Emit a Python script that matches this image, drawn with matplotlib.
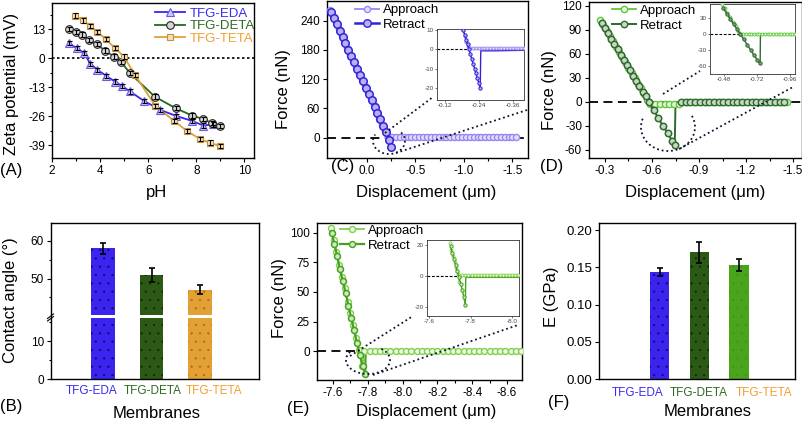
import numpy as np
import matplotlib
matplotlib.use("Agg")
import matplotlib.pyplot as plt
from matplotlib.lines import Line2D
from matplotlib.patches import Arc, Rectangle
from matplotlib.ticker import MultipleLocator, FixedLocator

plt.rcParams['font.family'] = ['Liberation Sans', 'DejaVu Sans']
plt.rcParams['axes.unicode_minus'] = False
plt.rcParams['hatch.linewidth'] = 0.35

# ---------------- (A) zeta potential ----------------
ph_eda = [2.69, 3.03, 3.34, 3.59, 3.89, 4.25, 4.62, 4.90, 5.24, 5.82, 6.51, 7.17, 7.83, 8.30, 8.70]
zeta_eda = [6.7, 4.5, 2.2, -2.5, -5.2, -7.9, -10.5, -12.4, -14.9, -19.1, -23.2, -25.9, -28.1, -30.2, -29.6]
ph_deta = [2.69, 3.00, 3.25, 3.55, 3.86, 4.20, 4.58, 4.87, 5.24, 6.27, 7.14, 7.83, 8.30, 8.65, 8.97]
zeta_deta = [13.0, 11.7, 10.5, 8.2, 6.3, 3.4, 0.7, -1.6, -6.7, -17.2, -22.4, -25.7, -27.3, -29.1, -30.3]
ph_teta = [2.97, 3.27, 3.59, 3.89, 4.23, 4.62, 4.99, 5.45, 6.30, 7.08, 7.61, 8.17, 8.55, 8.97]
zeta_teta = [19.1, 16.9, 14.5, 11.7, 8.5, 4.5, 0.7, -7.5, -21.4, -28.1, -32.6, -36.3, -37.8, -39.3]
zeta_err = 1.0
series_names = ['TFG-EDA', 'TFG-DETA', 'TFG-TETA']

# ---------------- (B) contact angle ----------------
membranes = ['TFG-EDA', 'TFG-DETA', 'TFG-TETA']
contact_angle = [58.0, 51.0, 47.0]
contact_err = [1.5, 1.8, 1.2]

# ---------------- (F) modulus ----------------
modulus = [0.144, 0.170, 0.153]
modulus_err = [0.0055, 0.014, 0.0076]

# ---------------- (C) force curve TFG-EDA ----------------
c_app_x = [0.38, 0.35, 0.32, 0.29, 0.26, 0.23, 0.20, 0.17, 0.14, 0.11, 0.08, 0.05, 0.02, -0.01, -0.04,
           -0.07, -0.10, -0.13, -0.16, -0.19, -0.22, -0.26, -0.30, -0.34, -0.38, -0.42, -0.46, -0.50,
           -0.54, -0.58, -0.62, -0.66, -0.70, -0.74, -0.78, -0.82, -0.86, -0.90, -0.94, -0.98, -1.02,
           -1.06, -1.10, -1.14, -1.18, -1.22, -1.26, -1.30, -1.34, -1.38, -1.42, -1.46, -1.50, -1.54]
c_app_y = [262, 249, 236, 223, 209, 196, 183, 170, 157, 144, 131, 118, 105, 92, 79,
           66, 52, 39, 26, 13, 1, 1, 1, 1, 1, 1, 1, 1,
           1, 1, 1, 1, 1, 1, 1, 1, 1, 1, 1, 1, 1,
           1, 1, 1, 1, 1, 1, 1, 1, 1, 1, 1, 1, 1]
c_ret_x = [0.37, 0.34, 0.31, 0.28, 0.25, 0.22, 0.19, 0.16, 0.13, 0.10, 0.07, 0.04, 0.01, -0.02,
           -0.05, -0.08, -0.11, -0.14, -0.17, -0.20, -0.23, -0.25]
c_ret_y = [258, 245, 232, 219, 206, 193, 180, 167, 154, 141, 128, 115, 102, 89,
           76, 63, 50, 37, 24, 11, -5, -20]
c_tail_x = [-0.25, -0.252, -0.50, -0.78, -0.80, -1.54]
c_tail_y = [-20, -1.5, -1.5, -1.5, 0.5, 0.5]
# inset C
ci_app_x = [-0.185, -0.190, -0.195, -0.200, -0.205, -0.210, -0.220, -0.230, -0.240, -0.250, -0.260,
            -0.270, -0.280, -0.290, -0.300, -0.310, -0.320, -0.330, -0.340, -0.350, -0.360, -0.370,
            -0.380, -0.390, -0.400]
ci_app_y = [10, 7, 4, 1.5, 0.5, 0.5, 0.5, 0.5, 0.5, 0.5, 0.5,
            0.5, 0.5, 0.5, 0.5, 0.5, 0.5, 0.5, 0.5, 0.5, 0.5, 0.5,
            0.5, 0.5, 0.5]
ci_ret_x = [-0.185, -0.190, -0.195, -0.200, -0.205, -0.210, -0.215, -0.220, -0.225, -0.230, -0.235,
            -0.240, -0.245]
ci_ret_y = [10, 7.5, 5, 2.5, 0, -2.5, -5, -7.5, -10, -12.5, -15, -17.5, -20]
ci_tail_x = [-0.245, -0.247, -0.300, -0.400]
ci_tail_y = [-20, -0.8, -0.8, -0.5]

# ---------------- (D) force curve TFG-DETA ----------------
d_app_x = [-0.27, -0.29, -0.31, -0.33, -0.35, -0.37, -0.39, -0.41, -0.43, -0.45, -0.47, -0.49, -0.51,
           -0.53, -0.55, -0.57, -0.59, -0.62, -0.65, -0.68, -0.71, -0.74, -0.77, -0.80, -0.83, -0.86,
           -0.89, -0.92, -0.95, -0.98, -1.01, -1.04, -1.07, -1.10, -1.13, -1.16, -1.19, -1.22, -1.25,
           -1.28, -1.31, -1.34, -1.37, -1.40, -1.43, -1.46]
d_app_y = [102, 96, 89, 83, 76, 69, 63, 56, 50, 43, 36, 30, 23,
           17, 10, 3, -2, -3, -3, -3, -3, -3, -3, 0, 0, 0,
           0, 0, 0, 0, 0, 0, 0, 0, 0, 0, 0, 0, 0,
           0, 0, 0, 0, 0, 0, 0]
d_ret_x = [-0.28, -0.30, -0.32, -0.34, -0.36, -0.38, -0.40, -0.42, -0.44, -0.46, -0.48, -0.50, -0.52,
           -0.54, -0.56, -0.58, -0.61, -0.64, -0.67, -0.70, -0.73, -0.745]
d_ret_y = [99, 92, 86, 79, 73, 66, 59, 53, 46, 40, 33, 26, 20,
           13, 7, 0, -10, -20, -30, -39, -49, -54]
d_tail_x = [-0.745, -0.750, -0.785, -0.815, -0.845, -0.875, -0.905, -0.935, -0.965, -0.995, -1.025,
            -1.055, -1.085, -1.115, -1.145, -1.175, -1.205, -1.235, -1.265, -1.295, -1.325, -1.355,
            -1.385, -1.415, -1.445]
d_tail_y = [-54, -2, 0, 0, 0, 0, 0, 0, 0, 0, 0,
            0, 0, 0, 0, 0, 0, 0, 0, 0, 0, 0,
            0, 0, 0]
# inset D
di_app_x = [-0.465, -0.485, -0.505, -0.525, -0.545, -0.565, -0.585, -0.600, -0.620, -0.640, -0.660,
            -0.680, -0.700, -0.720, -0.740, -0.760, -0.780, -0.800, -0.820, -0.840, -0.860, -0.880,
            -0.900, -0.920, -0.940, -0.960, -0.980, -1.000]
di_app_y = [57, 49, 40, 32, 23, 15, 6, 0, 0, 0, 0,
            0, 0, 0, 0, 0, 0, 0, 0, 0, 0, 0,
            0, 0, 0, 0, 0, 0]
di_ret_x = [-0.475, -0.500, -0.525, -0.550, -0.575, -0.600, -0.625, -0.650, -0.675, -0.700, -0.725, -0.745]
di_ret_y = [49, 39, 29.5, 19.7, 9.8, 0, -9.8, -19.7, -29.5, -39.3, -49, -55]
di_tail_x = [-0.745, -0.747, -1.0]
di_tail_y = [-55, 0, 0]

# ---------------- (E) force curve TFG-TETA ----------------
e_app_x = [-7.587, -7.603, -7.619, -7.635, -7.652, -7.668, -7.684, -7.700, -7.716, -7.733, -7.749,
           -7.768, -7.780, -7.810, -7.840, -7.870, -7.900, -7.930, -7.960, -7.990, -8.020, -8.050,
           -8.080, -8.110, -8.140, -8.170, -8.200, -8.230, -8.260, -8.290, -8.320, -8.350, -8.380,
           -8.410, -8.440, -8.470, -8.500, -8.530, -8.560, -8.590, -8.620, -8.650, -8.680]
e_app_y = [104, 94, 84, 73, 63, 53, 42, 32, 22, 11, 1,
           -12.6, 0, 0, 0, 0, 0, 0, 0, 0, 0, 0,
           0, 0, 0, 0, 0, 0, 0, 0, 0, 0, 0,
           0, 0, 0, 0, 0, 0, 0, 0, 0, 0]
e_ret_x = [-7.592, -7.608, -7.624, -7.640, -7.657, -7.673, -7.689, -7.705, -7.721, -7.738, -7.754,
           -7.770, -7.785]
e_ret_y = [100, 90, 80, 69, 59, 49, 38, 28, 18, 7, -3, -12, -18.7]
e_tail_x = [-7.785, -7.787, -7.800, -8.690]
e_tail_y = [-18.7, 0, 0, 0]
# inset E
ei_app_x = [-7.700, -7.708, -7.716, -7.724, -7.732, -7.740, -7.745, -7.750, -7.760, -7.775, -7.790,
            -7.805, -7.820, -7.835, -7.850, -7.865, -7.880, -7.895, -7.910, -7.925, -7.940, -7.955,
            -7.970, -7.985, -8.000, -8.015, -8.030]
ei_app_y = [21, 17, 13, 9, 5, 1, -4, 0, 0.5, 0.5, 0.5,
            0.5, 0.5, 0.5, 0.5, 0.5, 0.5, 0.5, 0.5, 0.5, 0.5, 0.5,
            0.5, 0.5, 0.5, 0.5, 0.5]
ei_ret_x = [-7.704, -7.712, -7.720, -7.728, -7.736, -7.744, -7.752, -7.760, -7.768, -7.775]
ei_ret_y = [19, 15, 11, 7, 3, -1, -5, -9, -14, -18.6]
ei_tail_x = [-7.775, -7.777, -8.030]
ei_tail_y = [-18.6, -1, -1]

# ---------------- styling ----------------
W, H = 803, 423
fig = plt.figure(figsize=(W / 100, H / 100), dpi=100)

C_EDA = '#3a24ee'
C_DETA = '#1f6a1f'
C_TETA = '#e3a035'
C_DETA_BAR = '#2c5a16'
C_TETA_F = '#4aa51c'
LBL_EDA, LBL_DETA, LBL_TETA = '#3a2cf0', '#2e6b22', '#f0a030'


def px_axes(x0, y0, x1, y1, **kw):
    return fig.add_axes([x0 / W, 1 - y1 / H, (x1 - x0) / W, (y1 - y0) / H], **kw)


def style(ax, fs=8.5, major=3, minor=1.8, lw=1.0, color='black'):
    ax.tick_params(which='both', direction='out', labelsize=fs, width=0.8, pad=2, colors=color)
    ax.tick_params(which='major', length=major)
    ax.tick_params(which='minor', length=minor)
    for s in ax.spines.values():
        s.set_linewidth(lw)


def inset_style(ax):
    ax.tick_params(which='both', direction='out', labelsize=4.5, width=0.5, length=1.5, pad=1,
                   labelcolor='#444444', color='#444444')
    for s in ax.spines.values():
        s.set_linewidth(0.6)
        s.set_color('#333333')


def px_legend(ax, handles, labels, x, y, fs=9, colors=None, hl=2.3, ls=0.2):
    leg = ax.legend(handles, labels, loc='upper left', bbox_to_anchor=(x / W, 1 - y / H),
                    bbox_transform=fig.transFigure, frameon=False, borderpad=0, borderaxespad=0,
                    fontsize=fs, handlelength=hl, handletextpad=0.3, labelspacing=ls,
                    labelcolor=colors if colors else None)
    return leg


# ---------------- (A) ----------------
axA = px_axes(52, 3, 254, 158)
axA.axhline(0, color='k', ls=(0, (1.5, 1.5)), lw=1.2, zorder=1)
specs = [(ph_eda, zeta_eda, C_EDA, '^', '#cfc8fa', '#6a5ae6', 5.5),
         (ph_deta, zeta_deta, C_DETA, 'o', '#d6d6d6', '#222222', 5.5),
         (ph_teta, zeta_teta, C_TETA, 's', '#f2e2bc', '#c09040', 5.0)]
handlesA = []
for xs, ys, c, m, fc, ec, ms in specs:
    axA.plot(xs, ys, color=c, lw=1.3, zorder=2)
    axA.plot(xs, ys, ls='none', marker=m, ms=ms, mfc=fc, mec=ec, mew=0.8, zorder=3)
    axA.errorbar(xs, ys, yerr=zeta_err, fmt='none', ecolor='k', elinewidth=0.8, capsize=1.8,
                 capthick=0.8, zorder=4)
    handlesA.append(Line2D([], [], color=c, lw=1.3, marker=m, ms=ms, mfc=fc, mec=ec, mew=0.8))
axA.set_xlim(2, 10.4)
axA.set_ylim(-44.7, 24.7)
axA.xaxis.set_major_locator(FixedLocator([2, 4, 6, 8, 10]))
axA.xaxis.set_minor_locator(FixedLocator([3, 5, 7, 9]))
axA.yaxis.set_major_locator(FixedLocator([-39, -26, -13, 0, 13]))
axA.yaxis.set_minor_locator(FixedLocator([-32.5, -19.5, -6.5, 6.5, 19.5]))
style(axA)
px_legend(axA, handlesA, series_names, 155, 7.5, fs=9.5, colors=[LBL_EDA, LBL_DETA, LBL_TETA], hl=2.3, ls=0.02)


# ---------------- (B) ----------------
lo_top, hi_bot = 16.4, 39.8


def fwd(v):
    v = np.asarray(v, dtype=float)
    return np.where(v <= lo_top, v, np.where(v >= hi_bot, v - (hi_bot - lo_top), lo_top))


def inv(u):
    u = np.asarray(u, dtype=float)
    return np.where(u <= lo_top, u, u + (hi_bot - lo_top))


axB = px_axes(51, 223, 259, 379)
axB.set_yscale('function', functions=(fwd, inv))
axB.bar(membranes, contact_angle, width=0.49,
        color=[C_EDA, C_DETA_BAR, C_TETA], edgecolor=['#10086a', '#0e2806', '#a86a18'],
        linewidth=0, hatch='..', zorder=2)
axB.errorbar(membranes, contact_angle, yerr=contact_err, fmt='none', ecolor='k', elinewidth=1.2,
             capsize=2.5, capthick=1.2, zorder=3)
axB.set_xlim(-1.08, 3.22)
axB.set_ylim(0, 64.7)
axB.yaxis.set_major_locator(FixedLocator([0, 10, 50, 60]))
axB.yaxis.set_minor_locator(FixedLocator([5, 15, 45, 55]))
axB.yaxis.set_major_formatter(plt.FuncFormatter(lambda v, p: '%d' % round(v)))
axB.yaxis.set_minor_formatter(plt.NullFormatter())
style(axB)
axB.tick_params(axis='x', which='both', bottom=False, labelbottom=False)

# ---------------- (F) ----------------
axF = px_axes(599, 223, 795, 379)
axF.bar(membranes, modulus, width=0.49, color=[C_EDA, C_DETA_BAR, C_TETA_F],
        edgecolor=['#10086a', '#0e2806', '#3f9418'], linewidth=0, hatch='..', zorder=2)
axF.errorbar(membranes, modulus, yerr=modulus_err, fmt='none', ecolor='k', elinewidth=1.2,
             capsize=2.5, capthick=1.2, zorder=3)
axF.set_xlim(-1.537, 3.42)
axF.set_ylim(0, 0.2094)
axF.yaxis.set_major_locator(MultipleLocator(0.05))
axF.yaxis.set_major_formatter(plt.FuncFormatter(lambda v, p: '%.2f' % v))
style(axF, fs=9.5)
axF.tick_params(axis='x', which='both', bottom=False, labelbottom=False)


# ---------------- force curves ----------------
def force_panel(rect, app, ret, tail, xlim, ylim, xmaj, xmin, ymaj, ca, cr, fa, fr, msa, msr, lwr,
                extra_ret=None):
    ax = px_axes(*rect)
    ax.axhline(0, color='k', ls=(0, (5, 3)), lw=1.3, zorder=1)
    ax.plot(tail[0], tail[1], color=cr, lw=lwr, zorder=2)
    ax.plot(app[0], app[1], color=ca, lw=1.3, marker='o', ms=msa, mfc=fa, mec=ca, mew=1.0, zorder=3)
    ax.plot(ret[0], ret[1], color=cr, lw=lwr, marker='o', ms=msr, mfc=fr, mec=cr, mew=1.1, zorder=4)
    if extra_ret is not None:
        ax.plot(extra_ret[0], extra_ret[1], ls='none', marker='o', ms=msr, mfc=fr, mec=cr, mew=1.0, zorder=3)
    ax.set_xlim(*xlim)
    ax.set_ylim(*ylim)
    ax.xaxis.set_major_locator(FixedLocator(xmaj))
    ax.xaxis.set_minor_locator(FixedLocator(xmin))
    ax.yaxis.set_major_locator(FixedLocator(ymaj))
    style(ax)
    return ax


def inset_panel(rect, app, ret, tail, xlim, ylim, xt, yt, ca, cr, fa, fr, fmt):
    ax = px_axes(*rect, zorder=5)
    ax.set_facecolor('white')
    ax.axhline(0, color='k', ls=(0, (2.5, 1.5)), lw=0.8, zorder=1)
    ax.plot(tail[0], tail[1], color=cr, lw=1.0, zorder=2)
    ax.plot(app[0], app[1], color=ca, lw=0.8, marker='o', ms=2.2, mfc=fa, mec=ca, mew=0.6, zorder=3)
    ax.plot(ret[0], ret[1], color=cr, lw=1.0, marker='o', ms=2.4, mfc=fr, mec=cr, mew=0.7, zorder=4)
    ax.set_xlim(*xlim)
    ax.set_ylim(*ylim)
    ax.xaxis.set_major_locator(FixedLocator(xt))
    ax.yaxis.set_major_locator(FixedLocator(yt))
    ax.xaxis.set_major_formatter(plt.FuncFormatter(lambda v, p: fmt % v))
    inset_style(ax)
    return ax


# C
C_APP, C_RET = '#9a88f2', '#3422d8'
axC = force_panel((327, 1, 528, 158), (c_app_x, c_app_y), (c_ret_x, c_ret_y), (c_tail_x, c_tail_y),
                  (0.41, -1.66), (-42, 280), [0.0, -0.5, -1.0, -1.5], [0.25, -0.25, -0.75, -1.25],
                  [0, 60, 120, 180, 240], C_APP, C_RET, '#e4defd', '#b9b0f4', 4.4, 5.4, 1.8)
axC.xaxis.set_major_formatter(plt.FuncFormatter(lambda v, p: '%.1f' % v))
hC = [Line2D([], [], color=C_APP, lw=1.3, marker='o', ms=4.4, mfc='#e4defd', mec=C_APP),
      Line2D([], [], color=C_RET, lw=1.8, marker='o', ms=5.4, mfc='#b9b0f4', mec=C_RET)]
px_legend(axC, hC, ['Approach', 'Retract'], 355, 4, fs=9.5, hl=1.8, ls=0.2)
inset_panel((437, 29, 524, 99.5), (ci_app_x, ci_app_y), (ci_ret_x, ci_ret_y), (ci_tail_x, ci_tail_y),
            (-0.092, -0.40), (-26, 10.5), [-0.12, -0.24, -0.36], [-20, -10, 0, 10],
            C_APP, C_RET, '#e4defd', '#b9b0f4', '%.2f')

# D
D_APP, D_RET = '#5cc83a', '#2d6a2d'
axD = force_panel((589, 2, 802, 158), (d_app_x, d_app_y), (d_ret_x, d_ret_y), (d_tail_x, d_tail_y),
                  (-0.198, -1.557), (-70, 125), [-0.3, -0.6, -0.9, -1.2, -1.5],
                  [-0.45, -0.75, -1.05, -1.35], [-60, -30, 0, 30, 60, 90, 120],
                  D_APP, D_RET, '#e6f6dc', '#c9d6c6', 4.5, 4.6, 1.4,
                  extra_ret=(d_tail_x[2:], d_tail_y[2:]))
axD.xaxis.set_major_formatter(plt.FuncFormatter(lambda v, p: '%.1f' % v))
hD = [Line2D([], [], color=D_APP, lw=1.3, marker='o', ms=4.5, mfc='#e6f6dc', mec=D_APP),
      Line2D([], [], color=D_RET, lw=1.4, marker='o', ms=4.6, mfc='#c9d6c6', mec=D_RET)]
px_legend(axD, hD, ['Approach', 'Retract'], 612, 4.5, fs=9.5, hl=1.8, ls=0.2)
inset_panel((710, 4, 795, 74), (di_app_x, di_app_y), (di_ret_x, di_ret_y), (di_tail_x, di_tail_y),
            (-0.378, -1.0), (-75, 57), [-0.48, -0.72, -0.96], [-60, -30, 0, 30],
            D_APP, D_RET, '#e6f6dc', '#8a9a88', '%.2f')

# E
E_APP, E_RET = '#7fd04c', '#45a21e'
axE = force_panel((317, 223, 522, 380), (e_app_x, e_app_y), (e_ret_x, e_ret_y), (e_tail_x, e_tail_y),
                  (-7.508, -8.686), (-24, 108), [-7.6, -7.8, -8.0, -8.2, -8.4, -8.6],
                  [-7.7, -7.9, -8.1, -8.3, -8.5], [0, 25, 50, 75, 100],
                  E_APP, E_RET, '#eefae4', '#cfe8c0', 4.3, 4.3, 1.6)
axE.xaxis.set_major_formatter(plt.FuncFormatter(lambda v, p: '%.1f' % v))
hE = [Line2D([], [], color=E_APP, lw=1.3, marker='o', ms=4.3, mfc='#eefae4', mec=E_APP),
      Line2D([], [], color=E_RET, lw=1.6, marker='o', ms=4.3, mfc='#cfe8c0', mec=E_RET)]
px_legend(axE, hE, ['Approach', 'Retract'], 340, 224.5, fs=9.5, hl=1.8, ls=0.2)
inset_panel((427, 240, 519, 316), (ei_app_x, ei_app_y), (ei_ret_x, ei_ret_y), (ei_tail_x, ei_tail_y),
            (-7.59, -8.034), (-26, 23.2), [-7.6, -7.8, -8.0], [-20, 0, 20],
            E_APP, E_RET, '#eefae4', '#cfe8c0', '%.1f')

# ---------------- overlay: text and zoom decorations ----------------
ov = fig.add_axes([0, 0, 1, 1], zorder=20)
ov.set_xlim(0, W)
ov.set_ylim(H, 0)
ov.axis('off')
ov.patch.set_alpha(0)

LFS = 12
ov.text(156.7, 193, 'pH', fontsize=LFS, ha='center', va='center')
ov.text(11.5, 84, 'Zeta potential (mV)', fontsize=LFS, ha='center', va='center', rotation=90)
ov.text(426, 193, 'Displacement (\u03bcm)', fontsize=LFS, ha='center', va='center')
ov.text(283.5, 89, 'Force (nN)', fontsize=LFS, ha='center', va='center', rotation=90)
ov.text(695.5, 193, 'Displacement (\u03bcm)', fontsize=LFS, ha='center', va='center')
ov.text(550, 90, 'Force (nN)', fontsize=LFS, ha='center', va='center', rotation=90)
ov.text(425.7, 411.5, 'Displacement (\u03bcm)', fontsize=LFS, ha='center', va='center')
ov.text(280, 298, 'Force (nN)', fontsize=LFS, ha='center', va='center', rotation=90)
ov.text(156.7, 413, 'Membranes', fontsize=LFS, ha='center', va='center')
ov.text(10.5, 300, 'Contact angle (\u00b0)', fontsize=LFS, ha='center', va='center', rotation=90)
ov.text(708, 412, 'Membranes', fontsize=LFS, ha='center', va='center')
ov.text(552, 297, 'E (GPa)', fontsize=LFS, ha='center', va='center', rotation=90)

PFS = 12
for lab, x, y in [('(A)', 0, 170), ('(B)', 0, 407), ('(C)', 331, 167), ('(D)', 540, 167),
                  ('(E)', 287, 408), ('(F)', 548, 402)]:
    ov.text(x, y, lab, fontsize=PFS, ha='left', va='center')

CFS = 8.5
for lab, x, col in zip(membranes, [91.7, 152.5, 214], [LBL_EDA, LBL_DETA, LBL_TETA]):
    ov.text(x, 391.5, lab, fontsize=CFS, ha='center', va='center', color=col)
for lab, x, col in zip(membranes, [638, 699, 764], [LBL_EDA, LBL_DETA, LBL_TETA]):
    ov.text(x, 392.5, lab, fontsize=CFS, ha='center', va='center', color=col)

# axis break in (B)
ov.add_patch(Rectangle((52, 315.3), 206, 2.8, facecolor='white', edgecolor='none'))
ov.plot([47.5, 53.5], [318.5, 314.0], color='k', lw=0.8)
ov.plot([47.5, 53.5], [321.0, 316.5], color='k', lw=0.8)

DOT = dict(color='#111133', lw=1.3, ls=(0, (1, 1.6)))
# C
ov.add_patch(Arc((389, 141), 32, 26, theta1=-35, theta2=205, **DOT))
ov.plot([385, 433], [133, 97], **DOT)
ov.plot([396, 527], [153, 110], **DOT)
# D
ov.add_patch(Arc((668, 127), 54, 48, theta1=-25, theta2=200, **DOT))
ov.plot([663, 700], [94, 71], **DOT)
ov.plot([679, 793], [149, 87], **DOT)
# E
ov.add_patch(Arc((368, 360), 44, 28, theta1=-40, theta2=210, **DOT))
ov.plot([350, 413], [356, 316], **DOT)
ov.plot([373, 518], [375, 325], **DOT)

fig.savefig('out.png', dpi=100)
